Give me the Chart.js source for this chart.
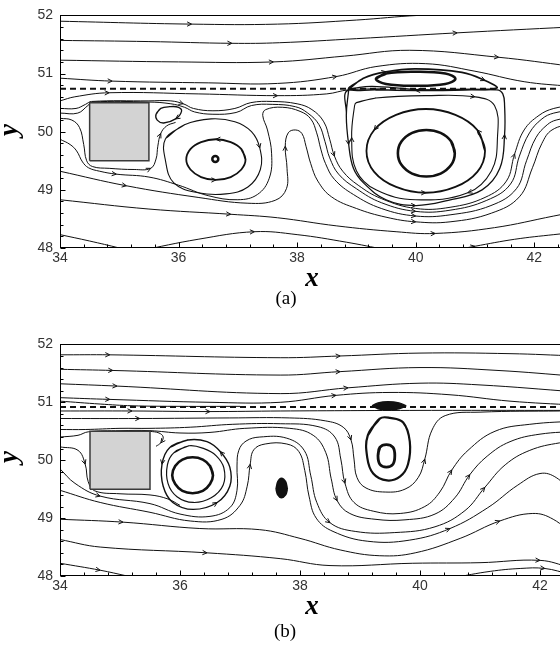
<!DOCTYPE html>
<html>
<head>
<meta charset="utf-8">
<title>Streamlines (a) and (b)</title>
<script src="https://cdn.jsdelivr.net/npm/chart.js@4.4.1/dist/chart.umd.min.js"></script>
<style>
  html, body { margin:0; padding:0; background:#fff; }
  body { width:560px; height:649px; overflow:hidden; position:relative; }
  .cv { position:absolute; left:0; }
  .lbl { position:absolute; font-family:"Liberation Serif","Times New Roman",serif; color:#000; line-height:1; white-space:nowrap; transform:translate(-50%,-50%); }
  .ax { font-weight:bold; font-style:italic; font-size:27px; }
  .cap { font-size:19px; }
</style>
</head>
<body>
<canvas id="chartA" class="cv" width="600" height="270" style="top:0px;width:600px;height:270px"></canvas>
<canvas id="chartB" class="cv" width="600" height="269" style="top:329px;width:600px;height:269px"></canvas>
<div class="lbl ax" style="left:312px;top:277px">x</div>
<div class="lbl ax" style="left:8px;top:130px;transform:translate(-50%,-50%) rotate(-90deg)">y</div>
<div class="lbl cap" style="left:286px;top:297px">(a)</div>
<div class="lbl ax" style="left:312px;top:605px">x</div>
<div class="lbl ax" style="left:8px;top:457px;transform:translate(-50%,-50%) rotate(-90deg)">y</div>
<div class="lbl cap" style="left:285px;top:630px">(b)</div>
<script>
// ---------------- axes ----------------
const xTickValues = [34, 36, 38, 40, 42];
const yTickValues = [48, 49, 50, 51, 52];

// ---------------- obstacle (square cylinder) ----------------
const boxOutline = [[34.5,49.5],[34.5,50.5],[35.5,50.5],[35.5,49.5],[34.5,49.5]];
const boxTop = [[34.5,50.5],[35.5,50.5]];
const boxBottomValue = 49.5;

// ---------------- panel (a) streamlines ----------------
const aTop1 = [[34,51.9],[36.22,51.85],[37.67,51.85],[39,51.92],[40.05,52.0],[41,52.02]];
const aTop2 = [[34,51.57],[35.5,51.55],[36.9,51.52],[37.7,51.53],[39,51.6],[40.7,51.7],[42.6,51.8]];
const aTop3 = [[34,51.23],[36,51.2],[37.6,51.2],[38.8,51.3],[39.9,51.4],[41.4,51.28],[42.6,51.13]];
const aTop4 = [[34,50.92],[34.88,50.87],[36.5,50.84],[37.67,50.83],[38.67,50.95],[39.33,51.12],[40.17,51.17],[41,51.04],[41.83,50.86],[42.6,50.78]];
const aDash = [[34,50.74],[43,50.74]];
const aOver = [[34,50.53],[34.25,50.6],[34.83,50.67],[36.33,50.65],[37.67,50.62],[38.5,50.65],[38.87,50.72],[39.5,50.74]];
const aUpperOuter = [[38.87,50.73],[39.12,50.92],[39.5,51.03],[40,51.08],[40.78,51.02],[41.17,50.88],[41.37,50.75],[40.83,50.72],[40,50.71],[39.33,50.72]];
const aUpperInner = [[39.33,50.91],[39.5,51.0],[40,51.03],[40.5,51.0],[40.67,50.91],[40.5,50.82],[40,50.79],[39.5,50.82]];
const aBigD1 = [[38.87,50.72],[38.83,50.28],[38.87,49.78],[38.95,49.37],[39.12,49.12],[39.5,48.83],[40,48.73],[40.55,48.82],[41.12,49.0],[41.42,49.37],[41.5,49.95],[41.5,50.45],[41.47,50.65],[41.37,50.72],[40.17,50.72]];
const aBigD2 = [[39,50.5],[39.33,50.58],[40.17,50.62],[41,50.6],[41.33,50.45],[41.38,49.9],[41.28,49.33],[40.88,48.95],[40,48.83],[39.33,49.0],[39,49.33],[38.92,49.9],[38.97,50.45]];
const aEll2 = [[41.17,49.67],[41.04,50.03],[40.67,50.29],[40.17,50.39],[39.67,50.29],[39.3,50.03],[39.17,49.67],[39.3,49.31],[39.67,49.05],[40.17,48.95],[40.67,49.05],[41.04,49.31]];
const aEll1 = [[40.66,49.63],[40.6,49.83],[40.42,49.98],[40.18,50.03],[39.94,49.98],[39.76,49.83],[39.7,49.63],[39.76,49.43],[39.94,49.28],[40.18,49.23],[40.42,49.28],[40.6,49.43]];
const aLVcenter = [[36.62,49.53]];
const aLV2 = [[37.13,49.52],[37.06,49.7],[36.88,49.82],[36.63,49.87],[36.38,49.82],[36.2,49.7],[36.13,49.52],[36.2,49.35],[36.38,49.22],[36.63,49.17],[36.88,49.22],[37.06,49.35]];
const aLV3 = [[35.78,49.88],[36.1,50.12],[36.55,50.22],[36.95,50.17],[37.23,50.0],[37.37,49.72],[37.38,49.35],[37.17,49.05],[36.8,48.93],[36.33,48.95],[35.92,49.12],[35.78,49.5]];
const aSmall = [[35.62,50.3],[35.7,50.4],[35.85,50.43],[36.0,50.42],[36.05,50.35],[35.95,50.22],[35.75,50.15],[35.64,50.2]];
const aS1 = [[34,50.4],[34.27,50.4],[34.43,50.47],[34.53,50.52],[35.5,50.53],[35.87,50.53],[36.08,50.48],[36.25,50.4],[36.58,50.36],[36.95,50.4],[37.22,50.5],[37.58,50.52],[38,50.48],[38.25,50.38],[38.45,50.17],[38.55,49.87],[38.63,49.58],[38.77,49.32],[39.03,49.08],[39.42,48.85],[40,48.68],[40.58,48.7],[41.17,48.87],[41.53,49.15],[41.67,49.62],[41.83,50.03],[42.08,50.28],[42.33,50.4],[42.67,50.45]];
const aS2 = [[34,50.32],[34.3,50.32],[34.47,50.45],[34.55,50.51],[35.5,50.51],[35.87,50.48],[36.1,50.42],[36.27,50.34],[36.58,50.3],[36.97,50.33],[37.23,50.45],[37.58,50.47],[37.97,50.43],[38.18,50.32],[38.37,50.12],[38.47,49.83],[38.55,49.55],[38.7,49.27],[39,49.02],[39.42,48.78],[40,48.63],[40.58,48.65],[41.2,48.82],[41.6,49.1],[41.75,49.58],[41.92,49.98],[42.13,50.22],[42.33,50.32],[42.67,50.37]];
const aS3 = [[34,49.87],[34.17,49.78],[34.28,49.67],[34.38,49.48],[34.48,49.38],[34.67,49.32],[34.95,49.27],[35.5,49.22],[36,49.08],[36.5,48.9],[37,48.83],[37.33,48.92],[37.53,49.2],[37.57,49.62],[37.5,50.03],[37.42,50.28],[37.47,50.38],[37.75,50.42],[38.05,50.35],[38.23,50.22],[38.33,49.98],[38.4,49.7],[38.48,49.45],[38.63,49.18],[38.95,48.92],[39.42,48.68],[40,48.55],[40.58,48.57],[41.27,48.73],[41.7,49.02],[41.87,49.5],[42.03,49.9],[42.22,50.12],[42.37,50.2],[42.67,50.25]];
const aTongue = [[34,49.32],[35.12,49.07],[36.33,48.87],[37.17,48.77],[37.63,48.82],[37.82,49.02],[37.83,49.37],[37.8,49.75],[37.85,49.98],[37.97,50.03],[38.08,49.97],[38.15,49.75],[38.23,49.45],[38.35,49.15],[38.58,48.88],[39,48.68],[39.5,48.53],[40,48.45],[40.58,48.45],[41.28,48.6],[41.75,48.88],[41.97,49.38],[42.13,49.8],[42.3,50.03],[42.67,50.15]];
const aC2 = [[34,50.23],[34.2,50.2],[34.33,50.07],[34.4,49.78],[34.45,49.5],[34.55,49.4],[34.83,49.37],[35.25,49.35],[35.53,49.37],[35.62,49.53],[35.65,49.75],[35.7,49.97],[35.8,50.1],[35.95,50.16]];
const aB2 = [[34,48.83],[35.5,48.67],[36.88,48.58],[37.67,48.52],[38.67,48.38],[39.67,48.28],[40.33,48.25],[41.33,48.35],[42.33,48.55],[42.83,48.65]];
const aB3 = [[34,48.23],[34.5,48.12],[35,48.0],[35.17,47.95]];
const aB4 = [[35.33,47.95],[36.33,48.15],[37.28,48.28],[38,48.23],[38.83,48.1],[39.5,47.97]];
const aB5 = [[40.58,47.95],[41,48.03],[41.67,48.15],[42.33,48.23],[42.83,48.28]];

// ---------------- panel (b) streamlines ----------------
const bM1 = [[34,51.82],[34.83,51.82],[37.67,51.77],[38.67,51.8],[40,51.85],[41.5,51.84],[42.6,51.8]];
const bM2 = [[34,51.57],[34.88,51.55],[37.67,51.47],[38.67,51.53],[40,51.6],[41.3,51.55],[42.6,51.45]];
const bM3 = [[34,51.32],[34.95,51.28],[37.67,51.15],[38.8,51.25],[40,51.33],[41,51.3],[42.6,51.18]];
const bM4 = [[34,51.08],[34.83,51.05],[36.5,51.0],[37.67,51.0],[38.6,51.12],[39.5,51.17],[40.5,51.13],[41.5,51.02],[42.6,50.95]];
const bN1 = [[34,51.02],[34.67,50.97],[35.2,50.94],[36,50.93],[37,50.93]];
const bDash = [[34,50.92],[43,50.92]];
const bN2 = [[34,50.85],[35.2,50.85],[36.5,50.84],[37.67,50.85],[40,50.86],[42.6,50.86]];
const bUB1 = [[34,50.72],[35.33,50.72],[36.83,50.73],[37.83,50.73],[38.42,50.68],[38.72,50.57],[38.85,50.35],[38.9,50.02],[38.95,49.7],[39.1,49.52],[39.42,49.45],[39.75,49.5],[39.97,49.7],[40.08,50.02],[40.2,50.52],[40.42,50.77],[41,50.83],[42.33,50.85],[42.67,50.85]];
const bUB2 = [[34,50.53],[34.42,50.53],[35,50.55],[35.5,50.55],[36.17,50.57],[36.88,50.62],[37.67,50.63],[38.3,50.58],[38.58,50.4],[38.68,50.02],[38.75,49.6],[38.9,49.27],[39.22,49.12],[39.67,49.08],[40.08,49.2],[40.33,49.45],[40.53,49.83],[40.8,50.17],[41.25,50.5],[41.83,50.62],[42.67,50.68]];
const bUB3 = [[34,50.4],[34.3,50.43],[34.47,50.49],[35,50.51],[35.5,50.51],[36,50.47],[36.5,50.48],[37.08,50.55],[37.83,50.55],[38.22,50.43],[38.43,50.13],[38.52,49.68],[38.62,49.3],[38.83,49.08],[39.25,48.98],[39.75,48.97],[40.25,49.07],[40.58,49.35],[40.83,49.75],[41.12,50.07],[41.5,50.32],[42,50.45],[42.67,50.5]];
const bUB4 = [[34,49.85],[34.25,49.6],[34.67,49.38],[35.5,49.25],[36,49.07],[36.5,49.03],[36.83,49.18],[36.95,49.48],[36.95,49.9],[36.98,50.17],[37.1,50.33],[37.33,50.4],[37.78,50.38],[38.07,50.17],[38.18,49.73],[38.28,49.27],[38.5,48.92],[38.92,48.77],[39.58,48.75],[40.25,48.85],[40.75,49.13],[41.08,49.53],[41.42,49.92],[41.83,50.17],[42.33,50.3],[42.83,50.35]];
const bTongue = [[34,49.48],[34.67,49.27],[35.5,49.1],[36.17,48.95],[36.7,48.98],[37,49.22],[37.12,49.55],[37.17,49.93],[37.23,50.18],[37.42,50.28],[37.78,50.28],[37.98,50.15],[38.08,49.82],[38.15,49.38],[38.27,49.0],[38.55,48.77],[39.13,48.6],[39.83,48.62],[40.5,48.82],[41.13,49.18],[41.63,49.57],[42,49.77],[42.27,49.7],[42.53,49.43]];
const bRB2 = [[34,48.98],[35.05,48.93],[36.33,48.82],[37.33,48.8],[38,48.65],[38.67,48.45],[39.33,48.35],[39.92,48.4],[40.67,48.65],[41.33,48.95],[41.88,49.08],[42.22,48.98],[42.58,48.68]];
const bRB3 = [[34,48.63],[34.67,48.5],[36.45,48.4],[37.67,48.3],[38.5,48.18],[39.88,48.22],[41,48.23],[42,48.27],[42.5,48.15]];
const bRB4 = [[34,48.22],[34.67,48.1],[35.12,48.0],[35.3,47.96]];
const bRB5 = [[40.55,47.97],[41.17,48.08],[41.67,48.13],[42.08,48.13],[42.5,48.03]];
const bQ2 = [[34,50.23],[34.3,50.17],[34.42,49.93],[34.47,49.63],[34.58,49.47],[35,49.42],[35.5,49.4],[35.8,49.33],[36.0,49.22]];
const bHook = [[35.5,50.5],[35.65,50.47],[35.72,50.4],[35.68,50.3],[35.6,50.24]];
const bOB = [[36.13,50.35],[35.83,50.22],[35.7,49.93],[35.72,49.55],[35.88,49.27],[36.22,49.15],[36.62,49.27],[36.83,49.55],[36.83,49.88],[36.67,50.15],[36.45,50.32]];
const bOB2 = [[36.15,50.25],[35.9,50.13],[35.79,49.92],[35.8,49.6],[35.95,49.37],[36.22,49.27],[36.52,49.35],[36.72,49.57],[36.73,49.87],[36.6,50.08],[36.4,50.2]];
const bIB = [[36.55,49.74],[36.5,49.9],[36.38,50.01],[36.21,50.05],[36.04,50.01],[35.92,49.9],[35.87,49.74],[35.92,49.59],[36.04,49.47],[36.21,49.43],[36.38,49.47],[36.5,49.59]];
const bRVouter = [[39.33,50.72],[39.13,50.43],[39.12,50.05],[39.22,49.77],[39.45,49.65],[39.67,49.72],[39.8,49.93],[39.83,50.32],[39.72,50.65],[39.5,50.73]];
const bRVinner = [[39.3,50.08],[39.33,50.22],[39.44,50.27],[39.55,50.22],[39.58,50.08],[39.55,49.93],[39.44,49.88],[39.33,49.93]];
const bBlobTopUpper = [[39.2,50.94],[39.3,50.99],[39.47,51.01],[39.65,50.99],[39.77,50.94]];
const bBlobTopLower = [[39.2,50.94],[39.3,50.89],[39.47,50.87],[39.65,50.89],[39.77,50.94]];
const bBlobMidUpper = [[37.6,49.5],[37.63,49.63],[37.69,49.69],[37.76,49.63],[37.79,49.5]];
const bBlobMidLower = [[37.6,49.5],[37.63,49.4],[37.69,49.35],[37.76,49.4],[37.79,49.5]];

// ---------------- styles ----------------
const panelALines = [
  [aTop1,{a:[1]}],[aTop2,{a:[2,5]}],[aTop3,{a:[2,5]}],[aTop4,{a:[1,4]}],
  [aDash,{w:2,dash:[6,4],t:0}],[aOver,{a:[2,4]}],
  [aUpperOuter,{closed:true,w:1.6,a:[2,5,8]}],[aUpperInner,{closed:true,w:2.6}],
  [aBigD1,{closed:true,w:1.3,a:[2,6,10]}],[aBigD2,{closed:true,w:1.1,a:[3,7,11]}],
  [aEll2,{closed:true,w:1.8,a:[1,5,9]}],[aEll1,{closed:true,w:2.6}],
  [aLV2,{closed:true,w:1.8,a:[3,9]}],[aLV3,{closed:true,w:1.1,a:[5]}],[aSmall,{closed:true,w:1.3,a:[5]}],
  [aS1,{a:[6,16,24]}],[aS2,{a:[20]}],[aS3,{a:[6,26]}],[aTongue,{a:[1,7,17]}],[aC2,{a:[8,11]}],
  [aB2,{a:[2,6]}],[aB3,{}],[aB4,{a:[2]}],[aB5,{a:[1]}]
];
const panelBLines = [
  [bM1,{a:[1,3]}],[bM2,{a:[1,3]}],[bM3,{a:[1,3]}],[bM4,{a:[1,4]}],
  [bN1,{}],[bDash,{w:2,dash:[6,4],t:0}],[bN2,{a:[1,2]}],
  [bUB1,{a:[1,6,13]}],[bUB2,{a:[10,16]}],[bUB3,{a:[12,18]}],[bUB4,{a:[2,16,21]}],
  [bTongue,{a:[7,18]}],[bRB2,{a:[1,9]}],[bRB3,{a:[2,7]}],[bRB4,{a:[1]}],[bRB5,{a:[3]}],
  [bQ2,{a:[2]}],[bHook,{a:[3]}],
  [bOB,{closed:true,w:1.4,a:[2,6,9]}],[bOB2,{closed:true,w:1.2}],[bIB,{closed:true,w:2.6}],
  [bRVouter,{closed:true,w:2.2}],[bRVinner,{closed:true,w:2.8}]
];

function lineDS(pts, st) {
  st = st || {};
  let data = pts.map(p => ({x:p[0], y:p[1]}));
  if (st.closed) data = data.concat([data[0], data[1]]);
  return {
    data,
    borderColor: st.color || '#111',
    borderWidth: st.w || 1,
    borderDash: st.dash || [],
    pointRadius: 0, pointHoverRadius: 0, pointHitRadius: 0,
    tension: st.t === undefined ? 0.4 : st.t,
    fill: st.fill === undefined ? false : st.fill,
    backgroundColor: st.bg || 'rgba(0,0,0,0)',
    arrows: st.a || []
  };
}
function obstacleDatasets() {
  return [
    lineDS(boxOutline, {t:0, w:1.5, color:'#3a3a3a'}),
    lineDS(boxTop, {t:0, w:0, color:'rgba(0,0,0,0)', fill:{value:boxBottomValue}, bg:'#d3d3d3'})
  ];
}

const decoPlugin = {
  id: 'deco',
  afterDatasetsDraw(chart) {
    const ctx = chart.ctx, A = chart.chartArea, xs = chart.scales.x, ys = chart.scales.y;
    ctx.save();
    ctx.beginPath(); ctx.rect(A.left, A.top, A.right - A.left, A.bottom - A.top); ctx.clip();
    ctx.strokeStyle = '#111'; ctx.lineWidth = 1;
    chart.data.datasets.forEach((ds, i) => {
      const idx = ds.arrows; if (!idx || !idx.length) return;
      const pts = chart.getDatasetMeta(i).data;
      idx.forEach(k => {
        const p = pts[k]; if (!p) return;
        const p0 = pts[k-1] || p, p1 = pts[k+1] || p;
        const ang = Math.atan2(p1.y - p0.y, p1.x - p0.x);
        const L = 5, s = 0.45;
        ctx.beginPath();
        ctx.moveTo(p.x - L*Math.cos(ang - s), p.y - L*Math.sin(ang - s));
        ctx.lineTo(p.x, p.y);
        ctx.lineTo(p.x - L*Math.cos(ang + s), p.y - L*Math.sin(ang + s));
        ctx.stroke();
      });
    });
    ctx.restore();
    ctx.save();
    ctx.strokeStyle = '#000'; ctx.lineWidth = 1;
    const l = Math.round(A.left) + 0.5, t = Math.round(A.top) + 0.5;
    const r = Math.round(A.right) - 0.5, b = Math.round(A.bottom) - 0.5;
    ctx.strokeRect(l, t, r - l, b - t);
    ctx.beginPath();
    const nx = Math.round((xs.max - xs.min) / 0.4);
    for (let i = 0; i <= nx; i++) {
      const v = xs.min + i * 0.4;
      const px = Math.round(xs.getPixelForValue(v)) + 0.5;
      const major = Math.abs(v / 2 - Math.round(v / 2)) < 1e-6;
      ctx.moveTo(px, b); ctx.lineTo(px, b - (major ? 5 : 3));
    }
    const ny = Math.round((ys.max - ys.min) / 0.2);
    for (let i = 0; i <= ny; i++) {
      const v = ys.min + i * 0.2;
      const py = Math.round(ys.getPixelForValue(v)) + 0.5;
      const major = Math.abs(v - Math.round(v)) < 1e-6;
      ctx.moveTo(l, py); ctx.lineTo(l + (major ? 5 : 3), py);
    }
    ctx.stroke();
    ctx.restore();
  }
};

function makeOptions() {
  const tickFont = {family:'"Liberation Sans", Arial, sans-serif', size:14};
  return {
    responsive:false, animation:false, events:[], devicePixelRatio:1,
    layout:{padding:{top:7, left:0, right:0, bottom:0}},
    plugins:{legend:{display:false}, tooltip:{enabled:false}, title:{display:false}},
    elements:{line:{capBezierPoints:false}},
    scales:{
      x:{type:'linear', min:34, max:43,
         afterBuildTicks: s => { s.ticks = xTickValues.map(v => ({value:v})); },
         afterFit: s => { s.height = 22; },
         grid:{display:false, drawTicks:false}, border:{display:false},
         ticks:{padding:2, color:'#333', font:tickFont, maxRotation:0, autoSkip:false}},
      y:{type:'linear', min:48, max:52,
         afterBuildTicks: s => { s.ticks = yTickValues.map(v => ({value:v})); },
         afterFit: s => { s.width = 60; },
         grid:{display:false, drawTicks:false}, border:{display:false},
         ticks:{padding:7, color:'#333', font:tickFont, autoSkip:false}}
    }
  };
}

// panel (a)
const dsA = obstacleDatasets();
dsA.push({data: aLVcenter.map(p => ({x:p[0], y:p[1]})), showLine:false, pointRadius:3,
          pointBorderWidth:2.5, pointBorderColor:'#111', pointBackgroundColor:'#fff', arrows:[]});
panelALines.forEach(([pts, st]) => dsA.push(lineDS(pts, st)));
new Chart(document.getElementById('chartA'), {type:'line', data:{datasets:dsA}, options:makeOptions(), plugins:[decoPlugin]});

// panel (b)
const dsB = obstacleDatasets();
dsB.push(lineDS(bBlobTopUpper, {w:1.5, fill:'+1', bg:'#111'}));
dsB.push(lineDS(bBlobTopLower, {w:1.5}));
dsB.push(lineDS(bBlobMidUpper, {w:1.5, fill:'+1', bg:'#111'}));
dsB.push(lineDS(bBlobMidLower, {w:1.5}));
panelBLines.forEach(([pts, st]) => dsB.push(lineDS(pts, st)));
new Chart(document.getElementById('chartB'), {type:'line', data:{datasets:dsB}, options:makeOptions(), plugins:[decoPlugin]});
</script>
</body>
</html>
